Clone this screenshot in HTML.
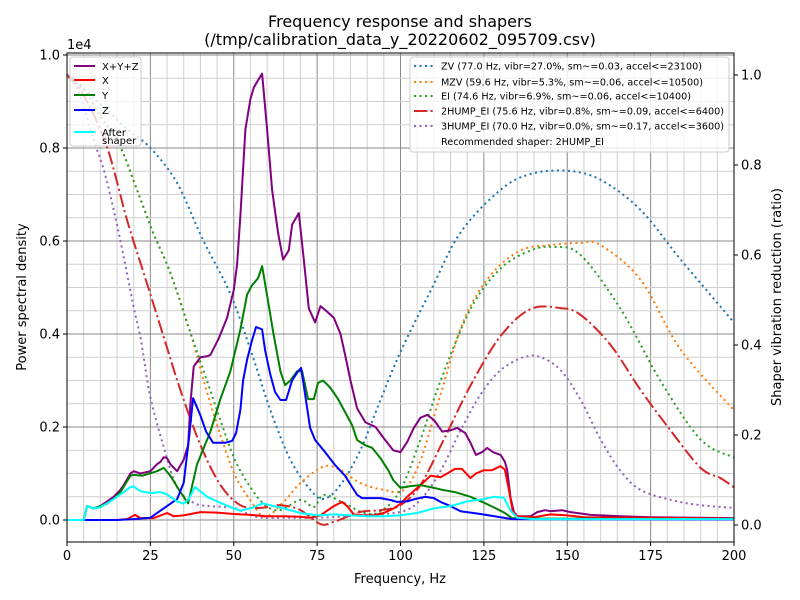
<!DOCTYPE html>
<html><head><meta charset="utf-8"><style>
body{margin:0;background:#fff;}
svg{display:block;font-family:"DejaVu Sans","Liberation Sans",sans-serif;}
</style></head><body>
<svg id="chart" width="800" height="600" xmlns="http://www.w3.org/2000/svg">
<rect width="800" height="600" fill="#fff"/>
<text x="400" y="27" font-size="16" text-anchor="middle">Frequency response and shapers</text>
<text x="400" y="45" font-size="16" text-anchor="middle">(/tmp/calibration_data_y_20220602_095709.csv)</text>
<g id="grid"></g>
<g id="series"></g>
<rect x="67" y="53" width="667" height="489" fill="none" stroke="#000" stroke-width="1"/>
<g id="axes"></g>
<text x="67" y="49" font-size="13">1e4</text>
<text x="400" y="583" font-size="13" text-anchor="middle">Frequency, Hz</text>
<text transform="translate(26,297) rotate(-90)" font-size="13" text-anchor="middle">Power spectral density</text>
<text transform="translate(781,297) rotate(-90)" font-size="13" text-anchor="middle">Shaper vibration reduction (ratio)</text>
<g id="legend1"></g>
<g id="legend2"></g>
</svg>
<script>
const xTicks=[0,25,50,75,100,125,150,175,200];
const yTicks=[0,0.2,0.4,0.6,0.8,1.0];
const yTickLabels=["0.0","0.2","0.4","0.6","0.8","1.0"];
const y2Ticks=[0,0.2,0.4,0.6,0.8,1.0];
const y2TickLabels=["0.0","0.2","0.4","0.6","0.8","1.0"];

const psdFreq=[0,5,6,8,10,12,14,16,17,19,20,22,25,27,28,29,30,31,33,35,36.3,37,38,40,42,43,45.5,48,50,51,52,53.5,55,56,57.2,58.5,60,61.5,63.3,64.8,66.5,67.5,69.5,71,72.5,74.4,76,77.7,80,82,83.4,85,87,89.5,92.5,95,97.8,100,102,104,106,108,110,112.5,115,117,119.4,121,122.6,124.5,126,127.7,130,131.3,132,133,134,135,139,141,143.3,145,148.4,151,157,166,175,200];
const psdAll=[0,0,0.03,0.025,0.03,0.04,0.05,0.065,0.075,0.1,0.105,0.1,0.105,0.12,0.125,0.135,0.133,0.12,0.105,0.13,0.16,0.25,0.33,0.35,0.352,0.355,0.39,0.435,0.495,0.55,0.655,0.84,0.905,0.93,0.945,0.96,0.84,0.71,0.617,0.56,0.58,0.635,0.66,0.56,0.455,0.425,0.46,0.45,0.435,0.40,0.355,0.30,0.24,0.21,0.20,0.176,0.15,0.146,0.168,0.198,0.22,0.226,0.215,0.19,0.193,0.198,0.187,0.166,0.14,0.146,0.155,0.146,0.14,0.125,0.107,0.047,0.017,0.008,0.008,0.017,0.021,0.019,0.021,0.017,0.011,0.008,0.006,0.004];

const yFreq=[0,5,6,8,10,12,14,16,19,20,22.5,27,29,31,34,36.3,39,43,46,49,52,54,55.5,57.3,58.5,60.3,61.8,64,65.4,67,69,70.5,72.3,74,75.3,76.8,78.9,81.3,83.4,85.5,87,89.3,91.5,94,96.3,97.8,100,103,106,110,112.5,116.3,121,124.5,128.3,131.3,133.4,140,200];
const psdY=[0,0,0.03,0.025,0.03,0.035,0.045,0.06,0.095,0.097,0.095,0.105,0.112,0.095,0.06,0.036,0.12,0.19,0.26,0.32,0.41,0.485,0.505,0.52,0.546,0.47,0.405,0.32,0.29,0.30,0.32,0.32,0.26,0.26,0.295,0.30,0.285,0.26,0.232,0.204,0.172,0.161,0.155,0.133,0.107,0.086,0.069,0.073,0.075,0.069,0.065,0.06,0.05,0.039,0.026,0.015,0.004,0.003,0.002];

const zFreq=[0,15,20,25,28,31,33,35,36.5,37.8,40,41.7,43.8,47.4,49.5,50.7,52,52.8,54,55.5,56.7,58.5,59.4,61,62.4,64,65.7,67.5,69.3,70.2,71.4,72.9,74.4,77.4,80.4,83.4,85.5,87,88.5,91,94,97,99,102,104.3,107.3,110,112,115,118,124,130,133.4,200];
const psdZ=[0,0,0.002,0.005,0.02,0.035,0.045,0.08,0.17,0.262,0.225,0.19,0.166,0.166,0.17,0.187,0.237,0.30,0.345,0.387,0.415,0.41,0.365,0.312,0.275,0.258,0.258,0.30,0.32,0.327,0.27,0.198,0.172,0.146,0.118,0.095,0.071,0.054,0.047,0.047,0.047,0.043,0.039,0.04,0.045,0.05,0.047,0.039,0.03,0.019,0.013,0.006,0.002,0.001];

const xFreq=[0,15,18,20.4,22,26,30,32,35,40,45,50,55,60,65,70,73,76,78,80,82.5,84,86,88,92,95,98,100,102,106,109,112,114,116.3,118.4,121,122.6,125,127.4,130,131.3,132.5,133.7,135,140,145,150,155,200];
const psdX=[0,0,0.002,0.011,0.004,0.004,0.015,0.008,0.01,0.017,0.016,0.013,0.011,0.008,0.008,0.007,0.005,0.01,0.02,0.03,0.039,0.03,0.012,0.01,0.01,0.015,0.025,0.035,0.05,0.075,0.095,0.092,0.10,0.11,0.11,0.09,0.1,0.107,0.107,0.116,0.108,0.065,0.017,0.008,0.006,0.012,0.01,0.006,0.003];

const cFreq=[0,5,6,8,10,14,17,19,20,22,25,28,30,33,35,36.5,38.4,42,45,50,52,55,58.8,62,65,70,75,80,85,90,95,100,105,110,115,120,125,128,131,133,135,140,200];
const psdAfter=[0,0,0.03,0.025,0.027,0.045,0.06,0.071,0.072,0.062,0.058,0.06,0.055,0.04,0.035,0.045,0.071,0.05,0.04,0.025,0.02,0.025,0.036,0.03,0.025,0.015,0.01,0.012,0.01,0.008,0.008,0.01,0.015,0.025,0.03,0.04,0.045,0.05,0.048,0.02,0.005,0.002,0.002];

const zvFreq=[0,7.9,18,25,33,40.8,48.9,55,61,67,73,77,82,88,94,100,109,118,130,139,150,160,172,184,200];
const zvRatio=[1.0,0.95,0.88,0.838,0.76,0.633,0.515,0.39,0.255,0.145,0.078,0.058,0.089,0.167,0.278,0.385,0.52,0.65,0.745,0.78,0.787,0.767,0.70,0.59,0.45];
const mzvFreq=[0,4,10.8,16,21,25.8,31,37,41.4,46,50.4,55,59.4,65.4,70,77,82,88,95,101,106,112,119,127,136,145,154,160,172,184,200];
const mzvRatio=[1.0,0.98,0.9,0.84,0.745,0.65,0.56,0.427,0.31,0.2,0.11,0.055,0.018,0.055,0.093,0.13,0.122,0.093,0.078,0.078,0.144,0.29,0.455,0.555,0.61,0.622,0.627,0.622,0.545,0.39,0.255];
const eiFreq=[0,4,10.8,16,21,25.8,31,37,41.4,46,50.4,55,59.4,64,70,74,77,83,89,94,100,106,112,121,130,139,146,154,166,178,190,200];
const eiRatio=[1.0,0.98,0.9,0.84,0.745,0.65,0.56,0.427,0.333,0.233,0.144,0.084,0.044,0.033,0.056,0.04,0.067,0.049,0.027,0.03,0.078,0.19,0.32,0.48,0.57,0.61,0.618,0.60,0.48,0.32,0.19,0.15];
const hump2Freq=[0,5,12,18,23,29,34,40,46,52,58,64,70,76,80,88,94,100,106,113,121,130,139,148,154,163,172,181,190,196,200];
const hump2Ratio=[1.0,0.955,0.84,0.678,0.56,0.418,0.30,0.178,0.089,0.044,0.038,0.044,0.033,0.002,0.007,0.029,0.033,0.044,0.089,0.19,0.31,0.42,0.48,0.482,0.467,0.40,0.30,0.21,0.127,0.104,0.084];
const hump3Freq=[0,2,5,8,11,14,17,20,22,23,25,29,33,38,43,50,55,59,66,74,81,88,100,106,112,118,124,130,137,142,148,154,160,166,172,181,190,200];
const hump3Ratio=[1.0,0.99,0.93,0.855,0.79,0.70,0.596,0.484,0.418,0.373,0.284,0.173,0.084,0.049,0.042,0.038,0.022,0.016,0.016,0.016,0.018,0.022,0.029,0.056,0.12,0.21,0.29,0.344,0.373,0.373,0.344,0.278,0.19,0.12,0.078,0.056,0.044,0.038];

const X0=67,X1=734,YT=53,YB=542;
const xs=f=>X0+(X1-X0)*f/200;
const yL=v=>520-465*v;
const yR=r=>525-450*r;
const NS="http://www.w3.org/2000/svg";
function mk(tag,attrs,parent){const e=document.createElementNS(NS,tag);for(const k in attrs)e.setAttribute(k,attrs[k]);parent.appendChild(e);return e;}

const grid=document.getElementById('grid');
for(let f=0;f<=200;f+=5){const major=f%25===0;
 const l=mk('line',{x1:xs(f),x2:xs(f),y1:YT,y2:YB,stroke:major?'#8a8a8a':'#d0d0d0','stroke-width':1},grid);
 
 }
for(let i=-1;i<=20;i++){const v=i*0.05;const y=yL(v);if(y<YT||y>YB)continue;const major=i%4===0;
 const l=mk('line',{x1:X0,x2:X1,y1:y,y2:y,stroke:major?'#8a8a8a':'#d0d0d0','stroke-width':1},grid);
 
 }

const axes=document.getElementById('axes');
xTicks.forEach(t=>{mk('line',{x1:xs(t),x2:xs(t),y1:YB,y2:YB+4,stroke:'#000'},axes);
 const tx=mk('text',{x:xs(t),y:YB+18,'font-size':13,'text-anchor':'middle'},axes);tx.textContent=t;
 
 });
yTicks.forEach((t,i)=>{mk('line',{x1:X0-4,x2:X0,y1:yL(t),y2:yL(t),stroke:'#000'},axes);
 const tx=mk('text',{x:X0-7,y:yL(t)+4.5,'font-size':13,'text-anchor':'end'},axes);tx.textContent=yTickLabels[i];
 
 });
y2Ticks.forEach((t,i)=>{mk('line',{x1:X1,x2:X1+4,y1:yR(t),y2:yR(t),stroke:'#000'},axes);
 const tx=mk('text',{x:X1+7,y:yR(t)+4.5,'font-size':13,'text-anchor':'start'},axes);tx.textContent=y2TickLabels[i];
 
 });

const ser=document.getElementById('series');
function pathLinear(pts){return pts.map((p,i)=>(i?'L':'M')+p[0].toFixed(1)+','+p[1].toFixed(1)).join('');}
function pathSmooth(pts){
 let d='M'+pts[0][0].toFixed(1)+','+pts[0][1].toFixed(1);
 for(let i=0;i<pts.length-1;i++){
  const p0=pts[Math.max(0,i-1)],p1=pts[i],p2=pts[i+1],p3=pts[Math.min(pts.length-1,i+2)];
  const c1=[p1[0]+(p2[0]-p0[0])/6,p1[1]+(p2[1]-p0[1])/6];
  const c2=[p2[0]-(p3[0]-p1[0])/6,p2[1]-(p3[1]-p1[1])/6];
  d+='C'+c1[0].toFixed(1)+','+c1[1].toFixed(1)+' '+c2[0].toFixed(1)+','+c2[1].toFixed(1)+' '+p2[0].toFixed(1)+','+p2[1].toFixed(1);
 }
 return d;}
function line(fr,vals,yf,color,dash,name,smooth){
 const pts=fr.map((f,i)=>[xs(f),yf(vals[i])]);
 const p=mk('path',{d:smooth?pathSmooth(pts):pathLinear(pts),fill:'none',stroke:color,'stroke-width':2,'stroke-linejoin':'round'},ser);
 if(dash)p.setAttribute('stroke-dasharray',dash);
 
 }
const dot='2.1,3.4', dashdot='13.3,3.3,2.1,3.3';
line(zvFreq,zvRatio,yR,'#1f77b4',dot,'zv-shaper-line',true);
line(mzvFreq,mzvRatio,yR,'#ff7f0e',dot,'mzv-shaper-line',true);
line(eiFreq,eiRatio,yR,'#2ca02c',dot,'ei-shaper-line',true);
line(hump2Freq,hump2Ratio,yR,'#d62728',dashdot,'2hump-ei-shaper-line',true);
line(hump3Freq,hump3Ratio,yR,'#9467bd',dot,'3hump-ei-shaper-line',true);
line(psdFreq,psdAll,yL,'#800080',null,'psd-xyz-line',false);
line(xFreq,psdX,yL,'#ff0000',null,'psd-x-line',false);
line(yFreq,psdY,yL,'#008000',null,'psd-y-line',false);
line(zFreq,psdZ,yL,'#0000ff',null,'psd-z-line',false);
line(cFreq,psdAfter,yL,'#00ffff',null,'psd-after-shaper-line',false);

const lg1=document.getElementById('legend1');
mk('rect',{x:70,y:57,width:71,height:89,rx:3,fill:'#fff','fill-opacity':0.8,stroke:'#ccc'},lg1);
[['X+Y+Z','#800080',66],['X','#ff0000',80],['Y','#008000',95],['Z','#0000ff',110],['After','#00ffff',132]].forEach(e=>{
 mk('line',{x1:74,x2:95,y1:e[2],y2:e[2],stroke:e[1],'stroke-width':2},lg1);
 const t=mk('text',{x:102,y:e[2]+4,'font-size':10},lg1);t.textContent=e[0];
 
 });
const ts=mk('text',{x:102,y:144,'font-size':10},lg1);ts.textContent='shaper';



const lg2=document.getElementById('legend2');
mk('rect',{x:410,y:57,width:319,height:95,rx:3,fill:'#fff','fill-opacity':0.8,stroke:'#ccc'},lg2);
[['ZV (77.0 Hz, vibr=27.0%, sm~=0.03, accel<=23100)','#1f77b4',dot,66,261],
 ['MZV (59.6 Hz, vibr=5.3%, sm~=0.06, accel<=10500)','#ff7f0e',dot,82,262],
 ['EI (74.6 Hz, vibr=6.9%, sm~=0.06, accel<=10400)','#2ca02c',dot,96,250],
 ['2HUMP_EI (75.6 Hz, vibr=0.8%, sm~=0.09, accel<=6400)','#d62728',dashdot,111,283],
 ['3HUMP_EI (70.0 Hz, vibr=0.0%, sm~=0.17, accel<=3600)','#9467bd',dot,126,283]].forEach(e=>{
 mk('line',{x1:414,x2:434,y1:e[3],y2:e[3],stroke:e[1],'stroke-width':2,'stroke-dasharray':e[2]},lg2);
 const t=mk('text',{x:441,y:e[3]+3.5,'font-size':10,textLength:e[4],lengthAdjust:'spacingAndGlyphs'},lg2);t.textContent=e[0];
 
 });
const rt=mk('text',{x:441,y:145,'font-size':10,textLength:163,lengthAdjust:'spacingAndGlyphs'},lg2);rt.textContent='Recommended shaper: 2HUMP_EI';


</script>
</body></html>
